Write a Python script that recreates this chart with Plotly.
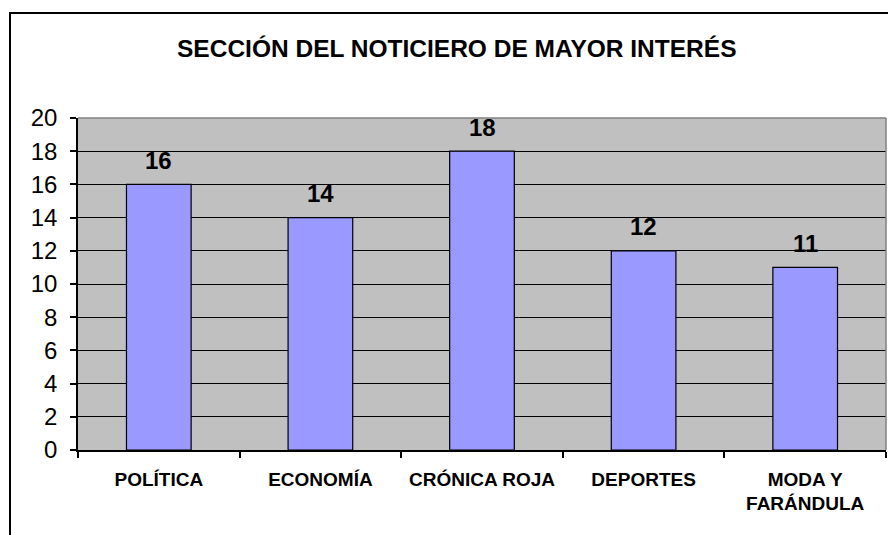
import plotly.graph_objects as go

categories = ["POLÍTICA", "ECONOMÍA", "CRÓNICA ROJA", "DEPORTES", "MODA Y<br>FARÁNDULA"]
values = [16, 14, 18, 12, 11]
y_ticks = [0, 2, 4, 6, 8, 10, 12, 14, 16, 18, 20]
title_text = "SECCIÓN DEL NOTICIERO DE MAYOR INTERÉS"

W, H = 888, 535
L, R, T, B = 78, 2, 118, 85
pw = W - L - R
ph = H - T - B
FONT = "Liberation Sans, Arial"

def px_x(x):
    return (x - L) / pw

def px_y(y):
    return (H - B - y) / ph

fig = go.Figure()
fig.add_trace(go.Bar(
    x=categories, y=values, width=0.4,
    marker=dict(color="#9999FF", line=dict(color="black", width=1.2)),
))

for c, v in zip(categories, values):
    fig.add_annotation(x=c, y=v, text=f"<b>{v}</b>", showarrow=False,
                       yanchor="middle", yshift=24,
                       font=dict(family=FONT, size=24, color="black"))

fig.add_annotation(xref="paper", yref="paper", x=px_x(457), y=px_y(48),
                   text=f"<b>{title_text}</b>", showarrow=False,
                   xanchor="center", yanchor="middle",
                   font=dict(family=FONT, size=24.5, color="black"))

# outer chart border
fig.add_shape(type="rect", xref="paper", yref="paper",
              x0=px_x(10), x1=px_x(905), y0=px_y(13), y1=px_y(560),
              line=dict(color="black", width=2), layer="above")
# plot area border top/right (gray)
fig.add_shape(type="line", xref="paper", yref="paper", x0=0, x1=1, y0=1, y1=1,
              line=dict(color="#808080", width=1.5), layer="above")
fig.add_shape(type="line", xref="paper", yref="paper", x0=1, x1=1, y0=0, y1=1,
              line=dict(color="#808080", width=1.5), layer="above")

fig.update_layout(
    width=W, height=H,
    margin=dict(l=L, r=R, t=T, b=B),
    paper_bgcolor="white",
    plot_bgcolor="#C0C0C0",
    showlegend=False,
    font=dict(family=FONT, color="black"),
)
fig.update_xaxes(
    showline=True, linecolor="black", linewidth=1.5,
    tickson="boundaries", ticks="outside", ticklen=6, tickcolor="black", tickwidth=1.5,
    showgrid=False,
    tickfont=dict(size=19, family=FONT, color="black", weight="bold"),
    ticklabelstandoff=11,
)
fig.update_yaxes(
    range=[0, 20], tickvals=y_ticks,
    showline=True, linecolor="black", linewidth=1.5,
    ticks="outside", ticklen=6, tickcolor="black", tickwidth=1.5,
    showgrid=True, gridcolor="black", gridwidth=1.2,
    zeroline=False,
    tickfont=dict(size=24, family=FONT, color="black"),
    ticklabelstandoff=8,
)

fig.write_html("out.html", config={"displayModeBar": False},
               post_script="document.body.style.margin='0px';")
